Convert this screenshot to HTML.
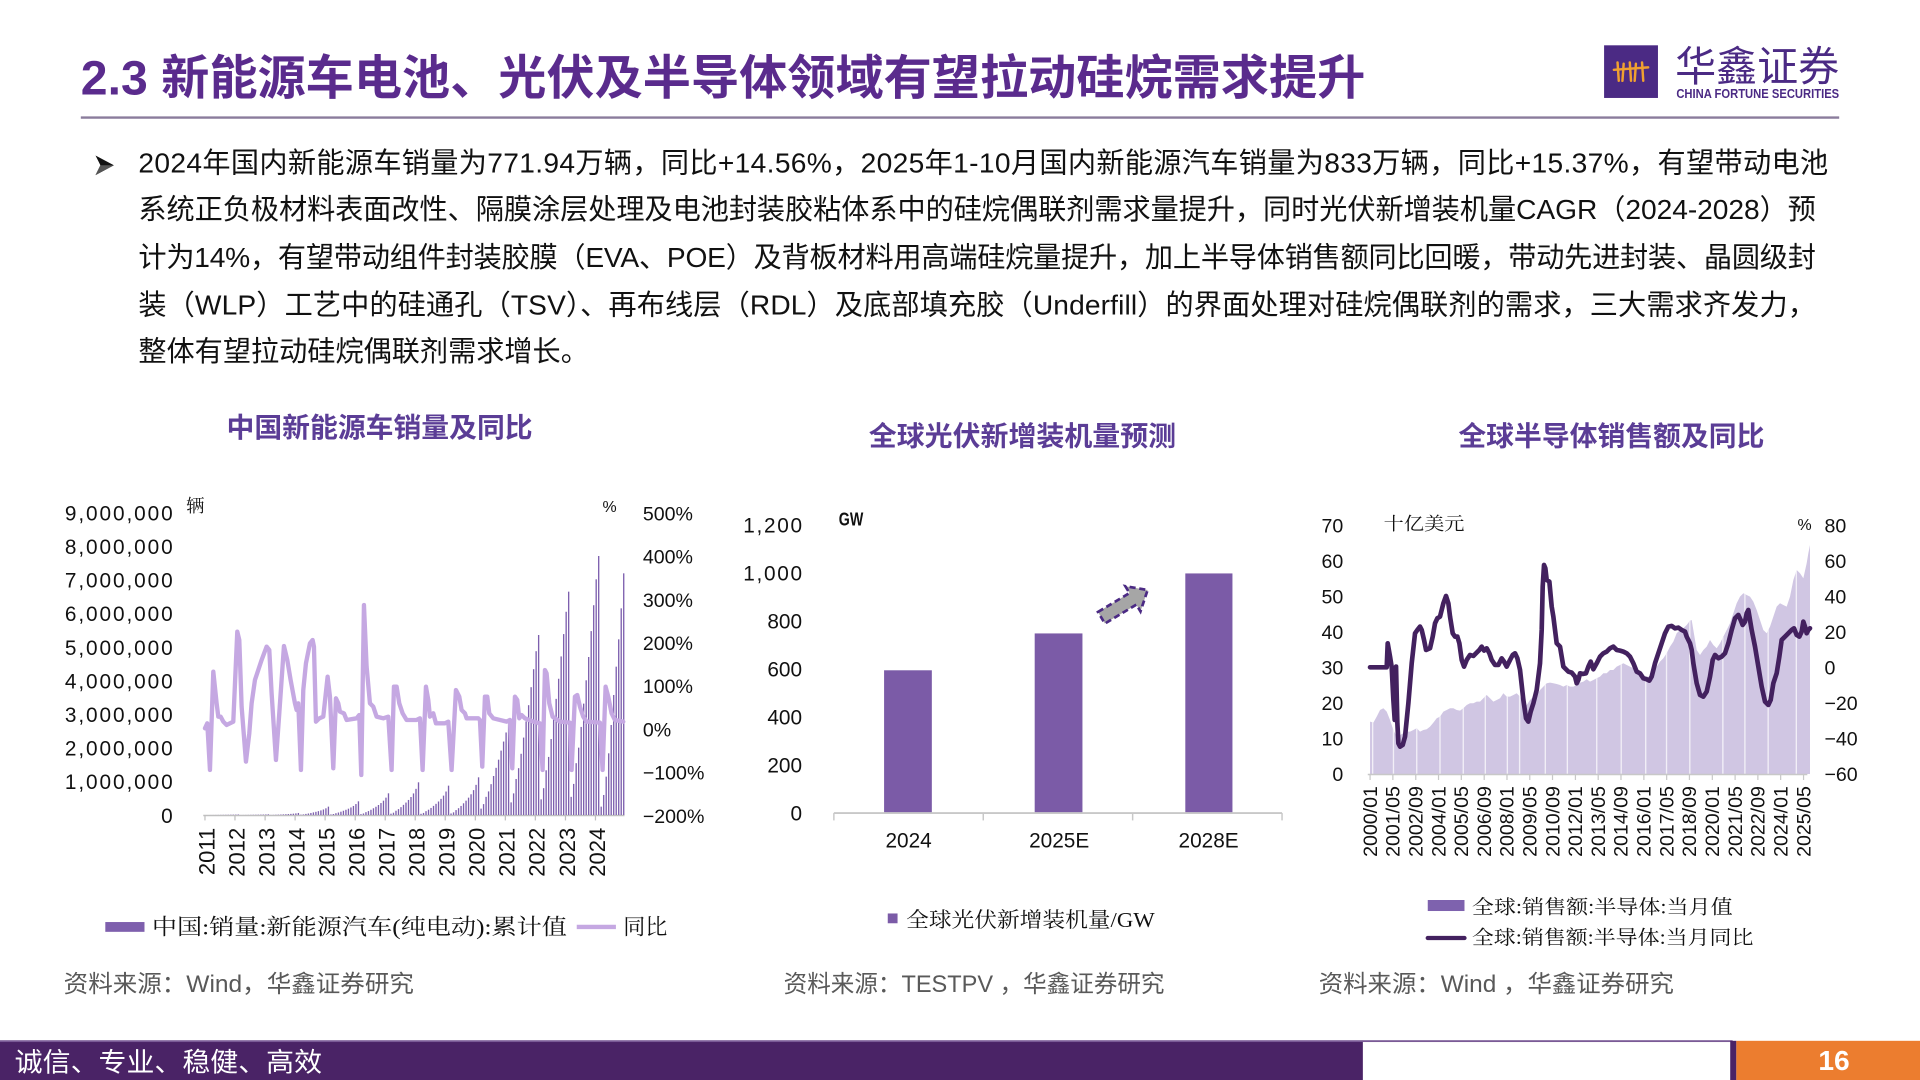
<!DOCTYPE html>
<html><head><meta charset="utf-8"><style>
html,body{margin:0;padding:0;background:#fff;}
svg{display:block;}
.sans{font-family:"Liberation Sans","Noto Sans CJK SC",sans-serif;}
.serif{font-family:"Liberation Serif","Noto Serif CJK SC",serif;}
</style></head><body>
<svg width="1920" height="1080" viewBox="0 0 1568 882" xmlns="http://www.w3.org/2000/svg">
<rect width="1568" height="882" fill="#fff"/>

<!-- Title -->
<text class="sans" x="66" y="77" font-size="39" font-weight="bold" fill="#5a2b8d" textLength="1049" lengthAdjust="spacingAndGlyphs">2.3 新能源车电池、光伏及半导体领域有望拉动硅烷需求提升</text>
<line x1="66" y1="96" x2="1502" y2="96" stroke="#8a7c9c" stroke-width="2"/>

<!-- Logo -->
<rect x="1310" y="37" width="44" height="43" fill="#4b2a84"/>
<g stroke="#f0a030" stroke-width="2" fill="none" stroke-linecap="round">
<line x1="1318" y1="57" x2="1346" y2="55"/>
<line x1="1321" y1="51" x2="1322" y2="66"/>
<line x1="1326" y1="52" x2="1325" y2="66"/>
<line x1="1331" y1="51" x2="1332" y2="66"/>
<line x1="1336" y1="52" x2="1335" y2="66"/>
<line x1="1341" y1="51" x2="1342" y2="66"/>
</g>
<text class="sans" x="1368" y="66" font-size="34" fill="#4b2a84" textLength="134" lengthAdjust="spacingAndGlyphs">华鑫证券</text>
<text class="sans" x="1369" y="80" font-size="10.5" font-weight="bold" fill="#4b2a84" textLength="133" lengthAdjust="spacingAndGlyphs">CHINA FORTUNE SECURITIES</text>

<!-- Bullet paragraph -->
<path d="M78,127 L93,135 L78,143 L82,135 Z" fill="#111"/>
<path d="M82,135 L93,135 L78,143 Z" fill="#555"/>
<g class="sans" font-size="23" fill="#111">
<text x="113" y="141" textLength="1380" lengthAdjust="spacing">2024年国内新能源车销量为771.94万辆，同比+14.56%，2025年1-10月国内新能源汽车销量为833万辆，同比+15.37%，有望带动电池</text>
<text x="113" y="179" textLength="1370" lengthAdjust="spacing">系统正负极材料表面改性、隔膜涂层处理及电池封装胶粘体系中的硅烷偶联剂需求量提升，同时光伏新增装机量CAGR（2024-2028）预</text>
<text x="113" y="218" textLength="1370" lengthAdjust="spacing">计为14%，有望带动组件封装胶膜（EVA、POE）及背板材料用高端硅烷量提升，加上半导体销售额同比回暖，带动先进封装、晶圆级封</text>
<text x="113" y="257" textLength="1370" lengthAdjust="spacing">装（WLP）工艺中的硅通孔（TSV）、再布线层（RDL）及底部填充胶（Underfill）的界面处理对硅烷偶联剂的需求，三大需求齐发力，</text>
<text x="113" y="295">整体有望拉动硅烷偶联剂需求增长。</text>
</g>

<!-- ============ Chart 1 ============ -->
<text class="sans" x="310" y="357" font-size="22.5" font-weight="bold" fill="#5b3d96" text-anchor="middle" textLength="250" lengthAdjust="spacingAndGlyphs">中国新能源车销量及同比</text>
<g class="sans" font-size="17" fill="#111" text-anchor="end">
<text x="141" y="425" textLength="88" lengthAdjust="spacing">9,000,000</text>
<text x="141" y="452.4" textLength="88" lengthAdjust="spacing">8,000,000</text>
<text x="141" y="479.9" textLength="88" lengthAdjust="spacing">7,000,000</text>
<text x="141" y="507.3" textLength="88" lengthAdjust="spacing">6,000,000</text>
<text x="141" y="534.8" textLength="88" lengthAdjust="spacing">5,000,000</text>
<text x="141" y="562.2" textLength="88" lengthAdjust="spacing">4,000,000</text>
<text x="141" y="589.6" textLength="88" lengthAdjust="spacing">3,000,000</text>
<text x="141" y="617.1" textLength="88" lengthAdjust="spacing">2,000,000</text>
<text x="141" y="644.5" textLength="88" lengthAdjust="spacing">1,000,000</text>
<text x="141" y="672">0</text>
</g>
<text class="serif" x="152" y="418" font-size="15" fill="#111">辆</text>
<text class="sans" x="492" y="418" font-size="13" fill="#111">%</text>
<g class="sans" font-size="16" fill="#111">
<text x="525" y="425">500%</text>
<text x="525" y="460.3">400%</text>
<text x="525" y="495.6">300%</text>
<text x="525" y="530.9">200%</text>
<text x="525" y="566.1">100%</text>
<text x="525" y="601.4">0%</text>
<text x="525" y="636.7">−100%</text>
<text x="525" y="672">−200%</text>
</g>
<line x1="166" y1="666" x2="510" y2="666" stroke="#bfbfbf" stroke-width="1.2"/>
<g stroke="#bfbfbf" stroke-width="1">
<line x1="167.4" y1="666" x2="167.4" y2="670"/><line x1="191.9" y1="666" x2="191.9" y2="670"/>
<line x1="216.5" y1="666" x2="216.5" y2="670"/><line x1="241" y1="666" x2="241" y2="670"/>
<line x1="265.5" y1="666" x2="265.5" y2="670"/><line x1="290.1" y1="666" x2="290.1" y2="670"/>
<line x1="314.6" y1="666" x2="314.6" y2="670"/><line x1="339.1" y1="666" x2="339.1" y2="670"/>
<line x1="363.6" y1="666" x2="363.6" y2="670"/><line x1="388.2" y1="666" x2="388.2" y2="670"/>
<line x1="412.7" y1="666" x2="412.7" y2="670"/><line x1="437.2" y1="666" x2="437.2" y2="670"/>
<line x1="461.8" y1="666" x2="461.8" y2="670"/><line x1="486.3" y1="666" x2="486.3" y2="670"/>
</g>
<g class="sans" font-size="18" fill="#111" text-anchor="end" dominant-baseline="central">
<text transform="translate(169,676) rotate(-90)">2011</text>
<text transform="translate(193.5,676) rotate(-90)">2012</text>
<text transform="translate(218,676) rotate(-90)">2013</text>
<text transform="translate(242.5,676) rotate(-90)">2014</text>
<text transform="translate(267,676) rotate(-90)">2015</text>
<text transform="translate(291.6,676) rotate(-90)">2016</text>
<text transform="translate(316.1,676) rotate(-90)">2017</text>
<text transform="translate(340.6,676) rotate(-90)">2018</text>
<text transform="translate(365.1,676) rotate(-90)">2019</text>
<text transform="translate(389.7,676) rotate(-90)">2020</text>
<text transform="translate(414.2,676) rotate(-90)">2021</text>
<text transform="translate(438.7,676) rotate(-90)">2022</text>
<text transform="translate(463.3,676) rotate(-90)">2023</text>
<text transform="translate(487.8,676) rotate(-90)">2024</text>
</g>
<defs>
<g id="early">
<rect x="-2" y="-0.04" width="4" height="0.04"/><rect x="5.508" y="-0.07" width="4" height="0.07"/>
<rect x="13.016" y="-0.13" width="4" height="0.13"/><rect x="20.524" y="-0.18" width="4" height="0.18"/>
<rect x="28.032" y="-0.24" width="4" height="0.24"/><rect x="35.54" y="-0.31" width="4" height="0.31"/>
<rect x="43.048" y="-0.38" width="4" height="0.38"/><rect x="50.556" y="-0.46" width="4" height="0.46"/>
<rect x="58.064" y="-0.55" width="4" height="0.55"/><rect x="65.572" y="-0.66" width="4" height="0.66"/>
<rect x="73.08" y="-0.80" width="4" height="0.80"/><rect x="80.588" y="-1" width="4" height="1"/>
</g>
<g id="recent">
<rect x="-2" y="-0.07" width="4" height="0.07"/><rect x="5.508" y="-0.12" width="4" height="0.12"/>
<rect x="13.016" y="-0.20" width="4" height="0.20"/><rect x="20.524" y="-0.26" width="4" height="0.26"/>
<rect x="28.032" y="-0.34" width="4" height="0.34"/><rect x="35.54" y="-0.43" width="4" height="0.43"/>
<rect x="43.048" y="-0.52" width="4" height="0.52"/><rect x="50.556" y="-0.61" width="4" height="0.61"/>
<rect x="58.064" y="-0.71" width="4" height="0.71"/><rect x="65.572" y="-0.81" width="4" height="0.81"/>
<rect x="73.08" y="-0.91" width="4" height="0.91"/><rect x="80.588" y="-1" width="4" height="1"/>
</g>
</defs>
<g transform="translate(163.3,441) scale(0.2722)">
<g fill="#7d5fae">
<use href="#early" transform="translate(32.51,825) scale(1,1.5)"/>
<use href="#early" transform="translate(122.61,825) scale(1,2)"/>
<use href="#early" transform="translate(212.71,825) scale(1,6)"/>
<use href="#early" transform="translate(302.81,825) scale(1,25)"/>
<use href="#early" transform="translate(392.91,825) scale(1,41)"/>
<use href="#early" transform="translate(483.01,825) scale(1,65)"/>
<use href="#early" transform="translate(573.11,825) scale(1,98)"/>
<use href="#early" transform="translate(663.21,825) scale(1,88)"/>
<use href="#early" transform="translate(753.31,825) scale(1,113)"/>
<use href="#recent" transform="translate(843.41,825) scale(1,272)"/>
<use href="#recent" transform="translate(933.51,825) scale(1,540)"/>
<use href="#recent" transform="translate(1023.61,825) scale(1,670)"/>
<use href="#recent" transform="translate(1113.71,825) scale(1,777)"/>
<g transform="translate(1203.81,825)">
<rect x="-2" y="-25" width="4" height="25"/><rect x="5.508" y="-60" width="4" height="60"/>
<rect x="13.016" y="-115" width="4" height="115"/><rect x="20.524" y="-185" width="4" height="185"/>
<rect x="28.032" y="-270" width="4" height="270"/><rect x="35.54" y="-360" width="4" height="360"/>
<rect x="43.048" y="-445" width="4" height="445"/><rect x="50.556" y="-527" width="4" height="527"/>
<rect x="58.064" y="-620" width="4" height="620"/><rect x="65.572" y="-725" width="4" height="725"/>
</g>
</g>
<polyline fill="none" stroke="#c5a8e2" stroke-width="13" stroke-linejoin="round" stroke-linecap="round" points="15,565 22,550 30,690 40,395 50,490 55,530 62,530 70,545 80,555 100,545 112,275 118,300 125,500 138,665 148,580 155,490 165,420 185,360 200,320 208,330 215,460 228,660 238,520 252,318 262,360 272,420 285,490 290,510 295,490 303,690 310,450 318,370 330,310 338,300 342,320 348,545 358,535 370,530 383,410 390,470 400,685 408,475 415,490 420,515 432,520 440,540 470,535 478,525 484,705 492,195 500,380 510,490 520,500 530,530 550,535 565,530 575,690 582,440 590,440 598,490 608,520 620,540 650,540 660,535 668,690 678,440 685,480 690,530 700,520 708,550 735,550 745,545 755,690 768,450 778,470 785,510 795,520 800,535 835,535 840,540 847,680 855,470 862,470 868,520 880,535 920,545 930,540 937,685 945,470 952,480 958,535 965,525 975,535 1000,545 1020,550 1028,690 1035,390 1040,400 1048,490 1058,530 1080,545 1110,548 1115,690 1125,470 1132,465 1140,500 1150,530 1160,545 1200,548 1208,690 1217,440 1225,470 1235,520 1245,540 1270,545"/>
</g>
<rect x="86" y="753" width="32" height="8" fill="#7e5fad"/>
<text class="serif" x="124" y="763" font-size="18" fill="#111" textLength="339" lengthAdjust="spacingAndGlyphs">中国:销量:新能源汽车(纯电动):累计值</text>
<line x1="471" y1="757" x2="503" y2="757" stroke="#c5a8e2" stroke-width="3.5"/>
<text class="serif" x="509" y="763" font-size="18" fill="#111" textLength="36" lengthAdjust="spacingAndGlyphs">同比</text>
<text class="sans" x="52" y="810" font-size="19.5" fill="#595959" textLength="286" lengthAdjust="spacingAndGlyphs">资料来源：Wind，华鑫证券研究</text>

<!-- ============ Chart 2 ============ -->
<text class="sans" x="835" y="364" font-size="22.5" font-weight="bold" fill="#5b3d96" text-anchor="middle" textLength="251" lengthAdjust="spacingAndGlyphs">全球光伏新增装机量预测</text>
<g class="sans" font-size="17" fill="#111" text-anchor="end">
<text x="655" y="435" textLength="48" lengthAdjust="spacing">1,200</text>
<text x="655" y="474.2" textLength="48" lengthAdjust="spacing">1,000</text>
<text x="655" y="513.3">800</text>
<text x="655" y="552.5">600</text>
<text x="655" y="591.7">400</text>
<text x="655" y="630.8">200</text>
<text x="655" y="670">0</text>
</g>
<text class="sans" x="685" y="429" font-size="15" font-weight="bold" fill="#111" textLength="20" lengthAdjust="spacingAndGlyphs">GW</text>
<rect x="722" y="547.4" width="39" height="116.6" fill="#7b5ba7"/>
<rect x="845" y="517.3" width="39" height="146.7" fill="#7b5ba7"/>
<rect x="968" y="468.3" width="38.5" height="195.7" fill="#7b5ba7"/>
<line x1="681" y1="664" x2="1047" y2="664" stroke="#c8c8c8" stroke-width="1.5"/>
<g stroke="#c8c8c8" stroke-width="1.2">
<line x1="681" y1="664" x2="681" y2="670"/><line x1="803" y1="664" x2="803" y2="670"/>
<line x1="925" y1="664" x2="925" y2="670"/><line x1="1047" y1="664" x2="1047" y2="670"/>
</g>
<g class="sans" font-size="17" fill="#111" text-anchor="middle">
<text x="742" y="692">2024</text>
<text x="865" y="692">2025E</text>
<text x="987" y="692">2028E</text>
</g>
<polygon transform="translate(899.5,504.5) rotate(-31)" points="0,-5.5 30,-5.5 30,-12 44,0 30,12 30,5.5 0,5.5" fill="#a6a6a6" stroke="#4b2a84" stroke-width="2.2" stroke-dasharray="5,3"/>
<rect x="725" y="746" width="8" height="8" fill="#7b5ba7"/>
<text class="serif" x="740" y="757" font-size="17" fill="#111" textLength="203" lengthAdjust="spacingAndGlyphs">全球光伏新增装机量/GW</text>
<text class="sans" x="640" y="810" font-size="19.5" fill="#595959" textLength="311" lengthAdjust="spacingAndGlyphs">资料来源：TESTPV ，华鑫证券研究</text>

<!-- ============ Chart 3 ============ -->
<text class="sans" x="1316" y="364" font-size="22.5" font-weight="bold" fill="#5b3d96" text-anchor="middle" textLength="250" lengthAdjust="spacingAndGlyphs">全球半导体销售额及同比</text>
<g class="sans" font-size="16" fill="#111" text-anchor="end">
<text x="1097" y="435">70</text><text x="1097" y="464">60</text>
<text x="1097" y="493">50</text><text x="1097" y="522">40</text>
<text x="1097" y="551">30</text><text x="1097" y="580">20</text>
<text x="1097" y="609">10</text><text x="1097" y="638">0</text>
</g>
<text class="serif" x="1130" y="433" font-size="15" fill="#111" textLength="66" lengthAdjust="spacingAndGlyphs">十亿美元</text>
<text class="sans" x="1468" y="433" font-size="13" fill="#111">%</text>
<g class="sans" font-size="16" fill="#111">
<text x="1490" y="435">80</text><text x="1490" y="464">60</text>
<text x="1490" y="493">40</text><text x="1490" y="522">20</text>
<text x="1490" y="551">0</text><text x="1490" y="580">−20</text>
<text x="1490" y="609">−40</text><text x="1490" y="638">−60</text>
</g>
<defs>
<clipPath id="areaclip">
<polygon transform="translate(1110.7,432.8) scale(0.2722)" points="30,732 30,575 40,578 50,560 60,540 70,535 80,545 90,570 100,600 110,620 120,615 130,610 140,605 150,605 160,600 170,595 180,605 190,600 200,598 210,590 220,578 230,565 240,560 250,545 260,540 270,535 280,535 290,540 300,542 310,535 320,525 330,520 340,520 350,515 360,515 370,505 380,495 390,505 400,515 410,510 420,505 430,490 440,500 450,500 460,495 470,490 480,500 490,520 500,525 510,510 520,500 530,495 540,480 550,470 560,460 570,458 580,460 590,462 600,465 610,470 620,465 630,470 640,470 650,465 660,458 670,455 680,448 690,455 700,450 710,445 720,440 730,430 740,430 750,420 760,420 770,410 780,405 790,400 800,405 810,410 820,415 830,425 840,440 850,440 860,440 870,440 880,430 890,410 900,395 910,385 920,370 930,350 940,335 950,310 960,300 970,295 980,285 990,272 995,270 1000,300 1010,360 1020,375 1030,360 1040,350 1050,330 1060,345 1070,355 1080,340 1090,320 1100,300 1110,280 1120,250 1130,220 1140,200 1150,190 1160,195 1170,200 1180,215 1190,240 1200,270 1210,300 1220,310 1230,290 1240,260 1250,230 1260,220 1270,225 1280,230 1290,200 1300,150 1310,120 1320,130 1330,145 1340,100 1345,70 1350,45 1350,732"/>
</clipPath>
</defs>
<g clip-path="url(#areaclip)">
<rect x="1110" y="430" width="370" height="205" fill="#d0c6e3"/>
<g stroke="#f2eff7" stroke-width="1.1">
<line x1="1121" y1="440" x2="1121" y2="632"/><line x1="1138" y1="440" x2="1138" y2="632"/>
<line x1="1157" y1="440" x2="1157" y2="632"/><line x1="1176" y1="440" x2="1176" y2="632"/>
<line x1="1195" y1="440" x2="1195" y2="632"/><line x1="1213" y1="440" x2="1213" y2="632"/>
<line x1="1231" y1="440" x2="1231" y2="632"/><line x1="1241" y1="440" x2="1241" y2="632"/>
<line x1="1262" y1="440" x2="1262" y2="632"/><line x1="1280" y1="440" x2="1280" y2="632"/>
<line x1="1304" y1="440" x2="1304" y2="632"/><line x1="1324" y1="440" x2="1324" y2="632"/>
<line x1="1344" y1="440" x2="1344" y2="632"/><line x1="1361" y1="440" x2="1361" y2="632"/>
<line x1="1380" y1="440" x2="1380" y2="632"/><line x1="1407" y1="440" x2="1407" y2="632"/>
<line x1="1425" y1="440" x2="1425" y2="632"/><line x1="1444" y1="440" x2="1444" y2="632"/>
<line x1="1467" y1="440" x2="1467" y2="632"/>
</g>
</g>
<g transform="translate(1110.7,432.8) scale(0.2722)">
<polyline fill="none" stroke="#43215f" stroke-width="14" stroke-linejoin="round" stroke-linecap="round" points="30,412 80,412 83,340 90,380 95,412 100,510 104,570 108,410 112,580 115,640 120,650 128,645 135,620 145,520 155,400 165,310 172,300 180,290 185,300 192,330 198,360 210,355 218,320 225,280 232,265 240,260 245,240 250,220 258,198 265,220 270,260 278,310 285,320 292,320 298,340 305,390 312,410 320,390 330,375 340,378 348,370 358,360 365,350 372,362 380,355 388,370 395,390 405,405 415,405 425,385 432,395 440,410 450,390 458,375 465,370 472,385 480,420 490,510 498,565 505,575 512,545 520,520 530,480 540,400 545,300 548,170 552,105 556,115 560,150 568,155 575,230 580,260 590,340 600,350 610,410 625,425 635,428 645,440 650,460 655,450 660,430 668,432 678,430 685,410 692,395 700,418 710,400 720,380 730,370 740,365 750,355 760,350 770,360 780,362 790,365 800,370 810,380 820,400 830,425 840,430 850,445 860,448 868,452 875,440 885,400 895,370 905,340 915,310 925,290 935,288 945,295 955,293 965,300 975,305 980,320 990,340 995,360 1000,400 1010,460 1020,495 1030,500 1040,485 1050,440 1058,390 1065,375 1075,385 1085,380 1095,370 1105,340 1115,300 1125,265 1135,255 1142,270 1148,285 1155,275 1160,250 1165,240 1170,270 1175,300 1185,350 1195,410 1205,470 1215,515 1225,525 1232,510 1240,460 1250,430 1258,380 1265,330 1275,320 1285,310 1295,300 1302,295 1310,315 1318,320 1325,305 1330,275 1335,290 1340,310 1345,300 1350,295"/>
</g>
<line x1="1117" y1="632.5" x2="1476" y2="632.5" stroke="#c8c8c8" stroke-width="1.2"/>
<g stroke="#c8c8c8" stroke-width="1">
<line x1="1118.9" y1="632" x2="1118.9" y2="637"/><line x1="1137.5" y1="632" x2="1137.5" y2="637"/>
<line x1="1156.2" y1="632" x2="1156.2" y2="637"/><line x1="1174.8" y1="632" x2="1174.8" y2="637"/>
<line x1="1193.4" y1="632" x2="1193.4" y2="637"/><line x1="1212.1" y1="632" x2="1212.1" y2="637"/>
<line x1="1230.7" y1="632" x2="1230.7" y2="637"/><line x1="1249.3" y1="632" x2="1249.3" y2="637"/>
<line x1="1267.9" y1="632" x2="1267.9" y2="637"/><line x1="1286.6" y1="632" x2="1286.6" y2="637"/>
<line x1="1305.2" y1="632" x2="1305.2" y2="637"/><line x1="1323.8" y1="632" x2="1323.8" y2="637"/>
<line x1="1342.5" y1="632" x2="1342.5" y2="637"/><line x1="1361.1" y1="632" x2="1361.1" y2="637"/>
<line x1="1379.7" y1="632" x2="1379.7" y2="637"/><line x1="1398.4" y1="632" x2="1398.4" y2="637"/>
<line x1="1417" y1="632" x2="1417" y2="637"/><line x1="1435.6" y1="632" x2="1435.6" y2="637"/>
<line x1="1454.2" y1="632" x2="1454.2" y2="637"/><line x1="1472.9" y1="632" x2="1472.9" y2="637"/>
</g>
<g class="sans" font-size="16" fill="#111" text-anchor="end" dominant-baseline="central">
<text transform="translate(1119.5,642) rotate(-90)">2000/01</text>
<text transform="translate(1138.1,642) rotate(-90)">2001/05</text>
<text transform="translate(1156.8,642) rotate(-90)">2002/09</text>
<text transform="translate(1175.4,642) rotate(-90)">2004/01</text>
<text transform="translate(1194,642) rotate(-90)">2005/05</text>
<text transform="translate(1212.7,642) rotate(-90)">2006/09</text>
<text transform="translate(1231.3,642) rotate(-90)">2008/01</text>
<text transform="translate(1249.9,642) rotate(-90)">2009/05</text>
<text transform="translate(1268.5,642) rotate(-90)">2010/09</text>
<text transform="translate(1287.2,642) rotate(-90)">2012/01</text>
<text transform="translate(1305.8,642) rotate(-90)">2013/05</text>
<text transform="translate(1324.4,642) rotate(-90)">2014/09</text>
<text transform="translate(1343.1,642) rotate(-90)">2016/01</text>
<text transform="translate(1361.7,642) rotate(-90)">2017/05</text>
<text transform="translate(1380.3,642) rotate(-90)">2018/09</text>
<text transform="translate(1399,642) rotate(-90)">2020/01</text>
<text transform="translate(1417.6,642) rotate(-90)">2021/05</text>
<text transform="translate(1436.2,642) rotate(-90)">2022/09</text>
<text transform="translate(1454.8,642) rotate(-90)">2024/01</text>
<text transform="translate(1473.5,642) rotate(-90)">2025/05</text>
</g>
<rect x="1166" y="735" width="30" height="9" fill="#7e62ae"/>
<text class="serif" x="1202" y="746" font-size="16" fill="#111" textLength="213" lengthAdjust="spacingAndGlyphs">全球:销售额:半导体:当月值</text>
<line x1="1166" y1="766" x2="1196" y2="766" stroke="#43215f" stroke-width="3.5" stroke-linecap="round"/>
<text class="serif" x="1202" y="771" font-size="16" fill="#111" textLength="230" lengthAdjust="spacingAndGlyphs">全球:销售额:半导体:当月同比</text>
<text class="sans" x="1077" y="810" font-size="19.5" fill="#595959" textLength="290" lengthAdjust="spacingAndGlyphs">资料来源：Wind ，华鑫证券研究</text>

<!-- Footer -->
<rect x="0" y="850" width="1113" height="32" fill="#4a2366"/>
<rect x="0" y="849.5" width="1415" height="1.5" fill="#7a5a96"/>
<rect x="1413" y="850" width="5" height="32" fill="#4a2366"/>
<rect x="1418" y="850" width="150" height="32" fill="#ec7d2f"/>
<text class="sans" x="12" y="875" font-size="22" fill="#fff" textLength="251" lengthAdjust="spacingAndGlyphs">诚信、专业、稳健、高效</text>
<text class="sans" x="1485" y="874" font-size="23" font-weight="bold" fill="#fff">16</text>
</svg>
</body></html>
